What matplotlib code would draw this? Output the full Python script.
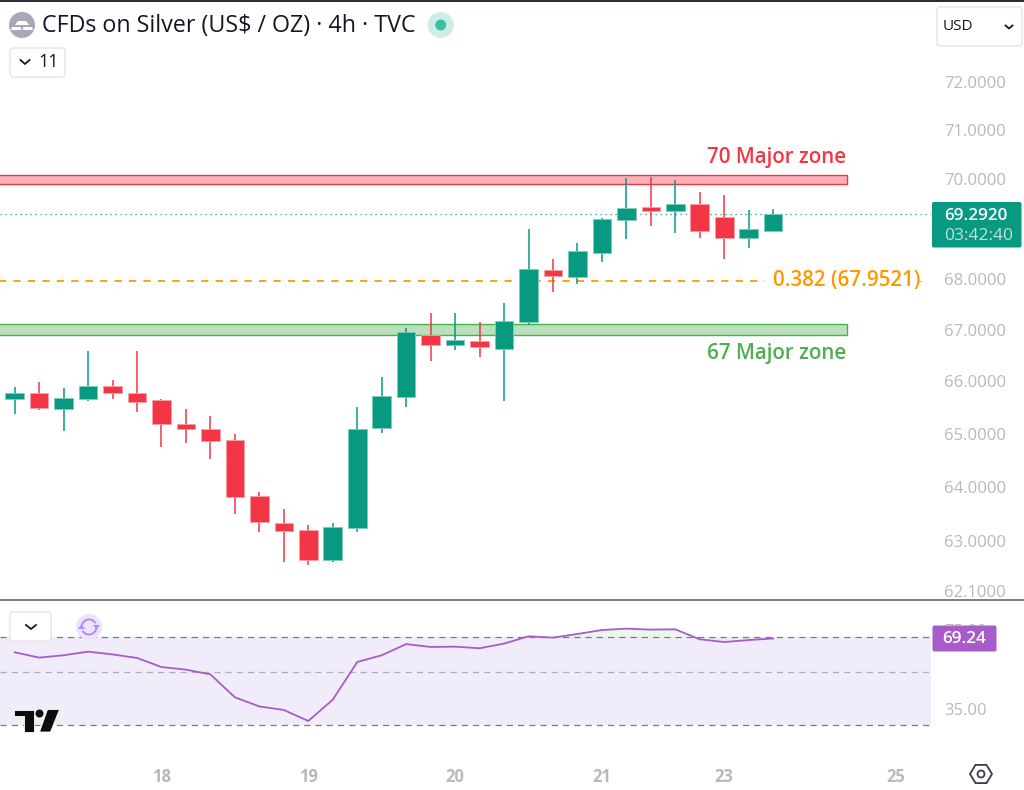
import numpy as np
import matplotlib
matplotlib.use("Agg")
import matplotlib.pyplot as plt
from matplotlib.patches import Rectangle, FancyBboxPatch, Circle, Polygon, Arc
from matplotlib.ticker import NullLocator, FixedLocator, FuncFormatter

plt.rcParams["font.family"] = ["Open Sans", "DejaVu Sans"]

# candles
opens = [65.66, 65.78, 65.47, 65.66, 65.91, 65.78, 65.64, 65.18, 65.09, 64.89, 63.84, 63.33, 63.20, 62.66, 63.24, 65.10,
         65.70, 66.90, 66.70, 66.78, 66.63, 67.15, 68.17, 68.03, 68.50, 69.16, 69.43, 69.34, 69.49, 69.23, 68.81, 68.94]
highs = [65.89, 65.99, 65.87, 66.58, 66.02, 66.58, 65.66, 65.47, 65.33, 64.99, 63.90, 63.59, 63.29, 63.33, 65.50, 66.08,
         67.02, 67.33, 67.33, 67.15, 67.52, 68.98, 68.39, 68.70, 69.20, 70.01, 70.03, 69.97, 69.74, 69.68, 69.37, 69.39]
lows = [65.37, 65.45, 65.05, 65.62, 65.66, 65.41, 64.74, 64.83, 64.53, 63.50, 63.17, 62.61, 62.56, 62.62, 63.17, 65.02,
        65.50, 66.38, 66.61, 66.47, 65.62, 67.09, 67.74, 67.89, 68.33, 68.79, 69.05, 68.90, 68.81, 68.39, 68.61, 68.92]
closes = [65.78, 65.49, 65.68, 65.91, 65.77, 65.60, 65.18, 65.08, 64.86, 63.82, 63.35, 63.18, 62.66, 63.26, 65.09, 65.72,
          66.96, 66.70, 66.80, 66.66, 67.17, 68.19, 68.06, 68.54, 69.18, 69.42, 69.34, 69.49, 68.94, 68.81, 68.98, 69.29]
rsi = [60.6, 57.6, 58.9, 61.0, 59.4, 57.4, 52.6, 51.3, 49.0, 39.3, 36.0, 34.8, 31.3, 38.4, 55.2, 58.9,
       65.6, 63.8, 64.0, 63.0, 65.9, 70.7, 69.8, 72.3, 75.1, 76.1, 75.4, 75.6, 68.7, 66.9, 68.2, 69.24]

price_ticks = [62.1, 63, 64, 65, 66, 67, 68, 70, 71, 72]  # 69 sits under the last price tag
rsi_ticks = [35, 75]
day_pos = [6, 12, 18, 24, 29, 36]
day_labels = ["18", "19", "20", "21", "23", "25"]

red_zone = (69.89, 70.09)
green_zone = (66.90, 67.10)
fib_level = 67.9521
last_price = 69.292
last_rsi = 69.24

UP = "#089981"
DOWN = "#f23645"
GREY = "#b8b9bd"
DARK = "#131722"
PURPLE = "#a85cc9"
W, H = 1024, 790
XLIM = (-0.6, 37.45)


def box(px_left, px_top, px_right, px_bottom):
    return [px_left / W, 1 - px_bottom / H, (px_right - px_left) / W, (px_bottom - px_top) / H]


fig = plt.figure(figsize=(W / 100, H / 100), dpi=100, facecolor="white")
ax = fig.add_axes(box(0, 0, 931, 600))
ax2 = fig.add_axes(box(0, 601, 931, 760))
x = np.arange(len(opens))

# --- price panel ---
ax.set_yscale("log")
ax.set_ylim(61.93, 73.74)
ax.set_xlim(*XLIM)
colors = [UP if c >= o else DOWN for o, c in zip(opens, closes)]
edge = ["#7fcabd" if c >= o else "#f9a0a8" for o, c in zip(opens, closes)]

for zone, fc, ec in [(red_zone, "#fbb1b7", DOWN), (green_zone, "#b9e0bb", "#4caf50")]:
    ax.add_patch(Rectangle((-2, zone[0]), 36.02, zone[1] - zone[0], facecolor=fc, edgecolor=ec, lw=1.0, zorder=1))

ax.plot([-1, 30.65], [fib_level, fib_level], color="#ff9800", lw=1.3, dashes=(4, 4), zorder=1.5)
ax.plot([36.97, 37.05], [fib_level, fib_level], color="#ff9800", lw=0.6, zorder=1.5)
ax.axhline(last_price, color=UP, lw=0.9, dashes=(1, 3), zorder=1.5)
ax.vlines(x, lows, highs, colors=colors, lw=1.1, zorder=2)
ax.bar(x, np.abs(np.array(closes) - np.array(opens)), bottom=np.minimum(opens, closes), width=0.76,
       color=colors, edgecolor=edge, linewidth=0.6, zorder=3)

ax.text(34, 70.43, "70 Major zone", color=DOWN, fontsize=14.8, weight="semibold", ha="right", va="center")
ax.text(34, 66.54, "67 Major zone", color="#4caf50", fontsize=14.8, weight="semibold", ha="right", va="center")
ax.text(30.99, fib_level, "0.382 (67.9521)", color="#ff9800", fontsize=14.8, weight="semibold", ha="left", va="center")

ax.yaxis.tick_right()
ax.yaxis.set_major_locator(FixedLocator(price_ticks))
ax.yaxis.set_minor_locator(NullLocator())
ax.yaxis.set_major_formatter(FuncFormatter(lambda v, p: f"{v:.4f}"))
ax.tick_params(axis="y", length=0, pad=9.5, labelsize=12, labelcolor=GREY)
ax.set_xticks([])
for s in ax.spines.values():
    s.set_visible(False)

# --- RSI panel ---
ax2.set_yscale("log")
ax2.set_ylim(21.5, 99.3)
ax2.set_xlim(*XLIM)
ax2.axhspan(30, 70, color="#f0ecf9", lw=0, zorder=1)
for level, alpha in [(70, 1.0), (50, 0.55), (30, 1.0)]:
    ax2.axhline(level, color="#787b86", lw=0.9, dashes=(5, 4), alpha=alpha, zorder=2)
ax2.fill_between(x, 70, rsi, where=np.array(rsi) > 70, interpolate=True, color="#4caf50", alpha=0.1, lw=0, zorder=2)
ax2.plot(x, rsi, color=PURPLE, lw=1.3, zorder=3)
ax2.yaxis.tick_right()
ax2.yaxis.set_major_locator(FixedLocator(rsi_ticks))
ax2.yaxis.set_minor_locator(NullLocator())
ax2.yaxis.set_major_formatter(FuncFormatter(lambda v, p: f"{v:.2f}"))
ax2.tick_params(axis="y", length=0, pad=9.5, labelsize=12, labelcolor=GREY)
ax2.set_xticks(day_pos)
ax2.set_xticklabels(day_labels, fontsize=12, weight="bold", color=GREY)
ax2.tick_params(axis="x", length=0, pad=6)
for s in ax2.spines.values():
    s.set_visible(False)

# --- chrome on top, in pixel coords ---
ui = fig.add_axes([0, 0, 1, 1], facecolor="none")
ui.set_xlim(0, W)
ui.set_ylim(H, 0)
ui.axis("off")


def rbox(l, t, r, b, fc="white", ec="#e0e3eb", rounding=3, zorder=5):
    ui.add_patch(FancyBboxPatch((l + rounding, t + rounding), r - l - 2 * rounding, b - t - 2 * rounding,
                                boxstyle=f"round,pad={rounding},rounding_size={rounding}",
                                fc=fc, ec=ec, lw=0.9, zorder=zorder))


def chevron(cx, cy, w=4.5, h=4, color=DARK):
    ui.plot([cx - w, cx, cx + w], [cy - h / 2, cy + h / 2, cy - h / 2], color=color, lw=1.3, zorder=7)


ui.add_patch(Rectangle((0, 0), W, 2, fc="#2a2e39", lw=0))
ui.add_patch(Rectangle((0, 599.3), W, 2, fc="#808288", lw=0, zorder=4))

# silver icon
ui.add_patch(Circle((22, 25), 13, fc="#a9a7b8", lw=0))
ui.add_patch(Polygon([[18, 21], [26, 21], [29, 25], [15, 25]], fc="white", lw=0))
ui.add_patch(Polygon([[12, 27], [20.5, 27], [21.5, 30], [11, 30]], fc="white", lw=0))
ui.add_patch(Polygon([[23.5, 27], [32, 27], [33, 30], [22.5, 30]], fc="white", lw=0))

ui.text(42, 26, "CFDs on Silver (US$ / OZ) · 4h · TVC", fontsize=16.75, color=DARK, va="center", ha="left")
ui.add_patch(Circle((440.7, 25), 13, fc="#cdeee6", lw=0))
ui.add_patch(Circle((440.7, 25), 5.5, fc="#3dbfa4", lw=0))

rbox(10, 48, 65, 77)
chevron(25, 62)
ui.text(49, 62, "11", fontsize=13, color=DARK, ha="center", va="center", zorder=7)

rbox(937, 7, 1022, 46)
ui.text(958, 26, "USD", fontsize=11, color=DARK, ha="center", va="center", zorder=7)
chevron(1009, 27, w=3.5, h=3)

# last price tag
ui.add_patch(FancyBboxPatch((932.5, 202.5), 88.5, 44.5, boxstyle="round,pad=0.5,rounding_size=2", fc=UP, lw=0, zorder=5))
ui.text(975.5, 216, f"{last_price:.4f}", color="white", fontsize=12.3, weight="semibold", ha="center", va="center", zorder=7)
ui.text(979, 236, "03:42:40", color="#b9e3db", fontsize=12.6, ha="center", va="center", zorder=7)

# RSI tag
ui.add_patch(FancyBboxPatch((933, 626), 63, 25, boxstyle="round,pad=0.5,rounding_size=2", fc=PURPLE, lw=0, zorder=5))
ui.text(964.5, 639, f"{last_rsi:.2f}", color="white", fontsize=12.3, weight="semibold", ha="center", va="center", zorder=7)

# RSI controls
rbox(10, 612, 51, 641)
chevron(31, 627, w=5, h=4)
ui.add_patch(Circle((89, 627), 13, fc="#ece5fd", lw=0, zorder=5))
ui.add_patch(Arc((89, 627), 15, 15, theta1=185, theta2=330, color="#b388ff", lw=1.4, zorder=6))
ui.add_patch(Arc((89, 627), 15, 15, theta1=5, theta2=150, color="#b388ff", lw=1.4, zorder=6))
ui.add_patch(Polygon([[93, 625], [100, 625], [96.5, 629.5]], fc="#b388ff", lw=0, zorder=6))
ui.add_patch(Polygon([[78, 629], [85, 629], [81.5, 624.5]], fc="#b388ff", lw=0, zorder=6))

# TV logo
ui.add_patch(Polygon([[14, 709.5], [33.5, 709.5], [33.5, 732], [23.5, 732], [23.5, 716], [14, 716]], fc="#0c0c0c", ec="white", lw=0.6, zorder=6))
ui.add_patch(Circle((39.5, 713.5), 4, fc="#0c0c0c", lw=0, zorder=6))
ui.add_patch(Polygon([[47.5, 709.5], [59.5, 709.5], [50.5, 732], [39.5, 732]], fc="#0c0c0c", ec="white", lw=0.6, zorder=6))

# settings hexagon
ang = np.deg2rad(np.arange(0, 360, 60))
ui.add_patch(Polygon(np.column_stack([981 + 11 * np.cos(ang), 774 + 10.5 * np.sin(ang)]), closed=True, fc="white", ec="#3a3d45", lw=1.3))
ui.add_patch(Circle((981, 774), 3.5, fc="white", ec="#3a3d45", lw=1.3))

fig.savefig("out.png", dpi=100, facecolor="white")
